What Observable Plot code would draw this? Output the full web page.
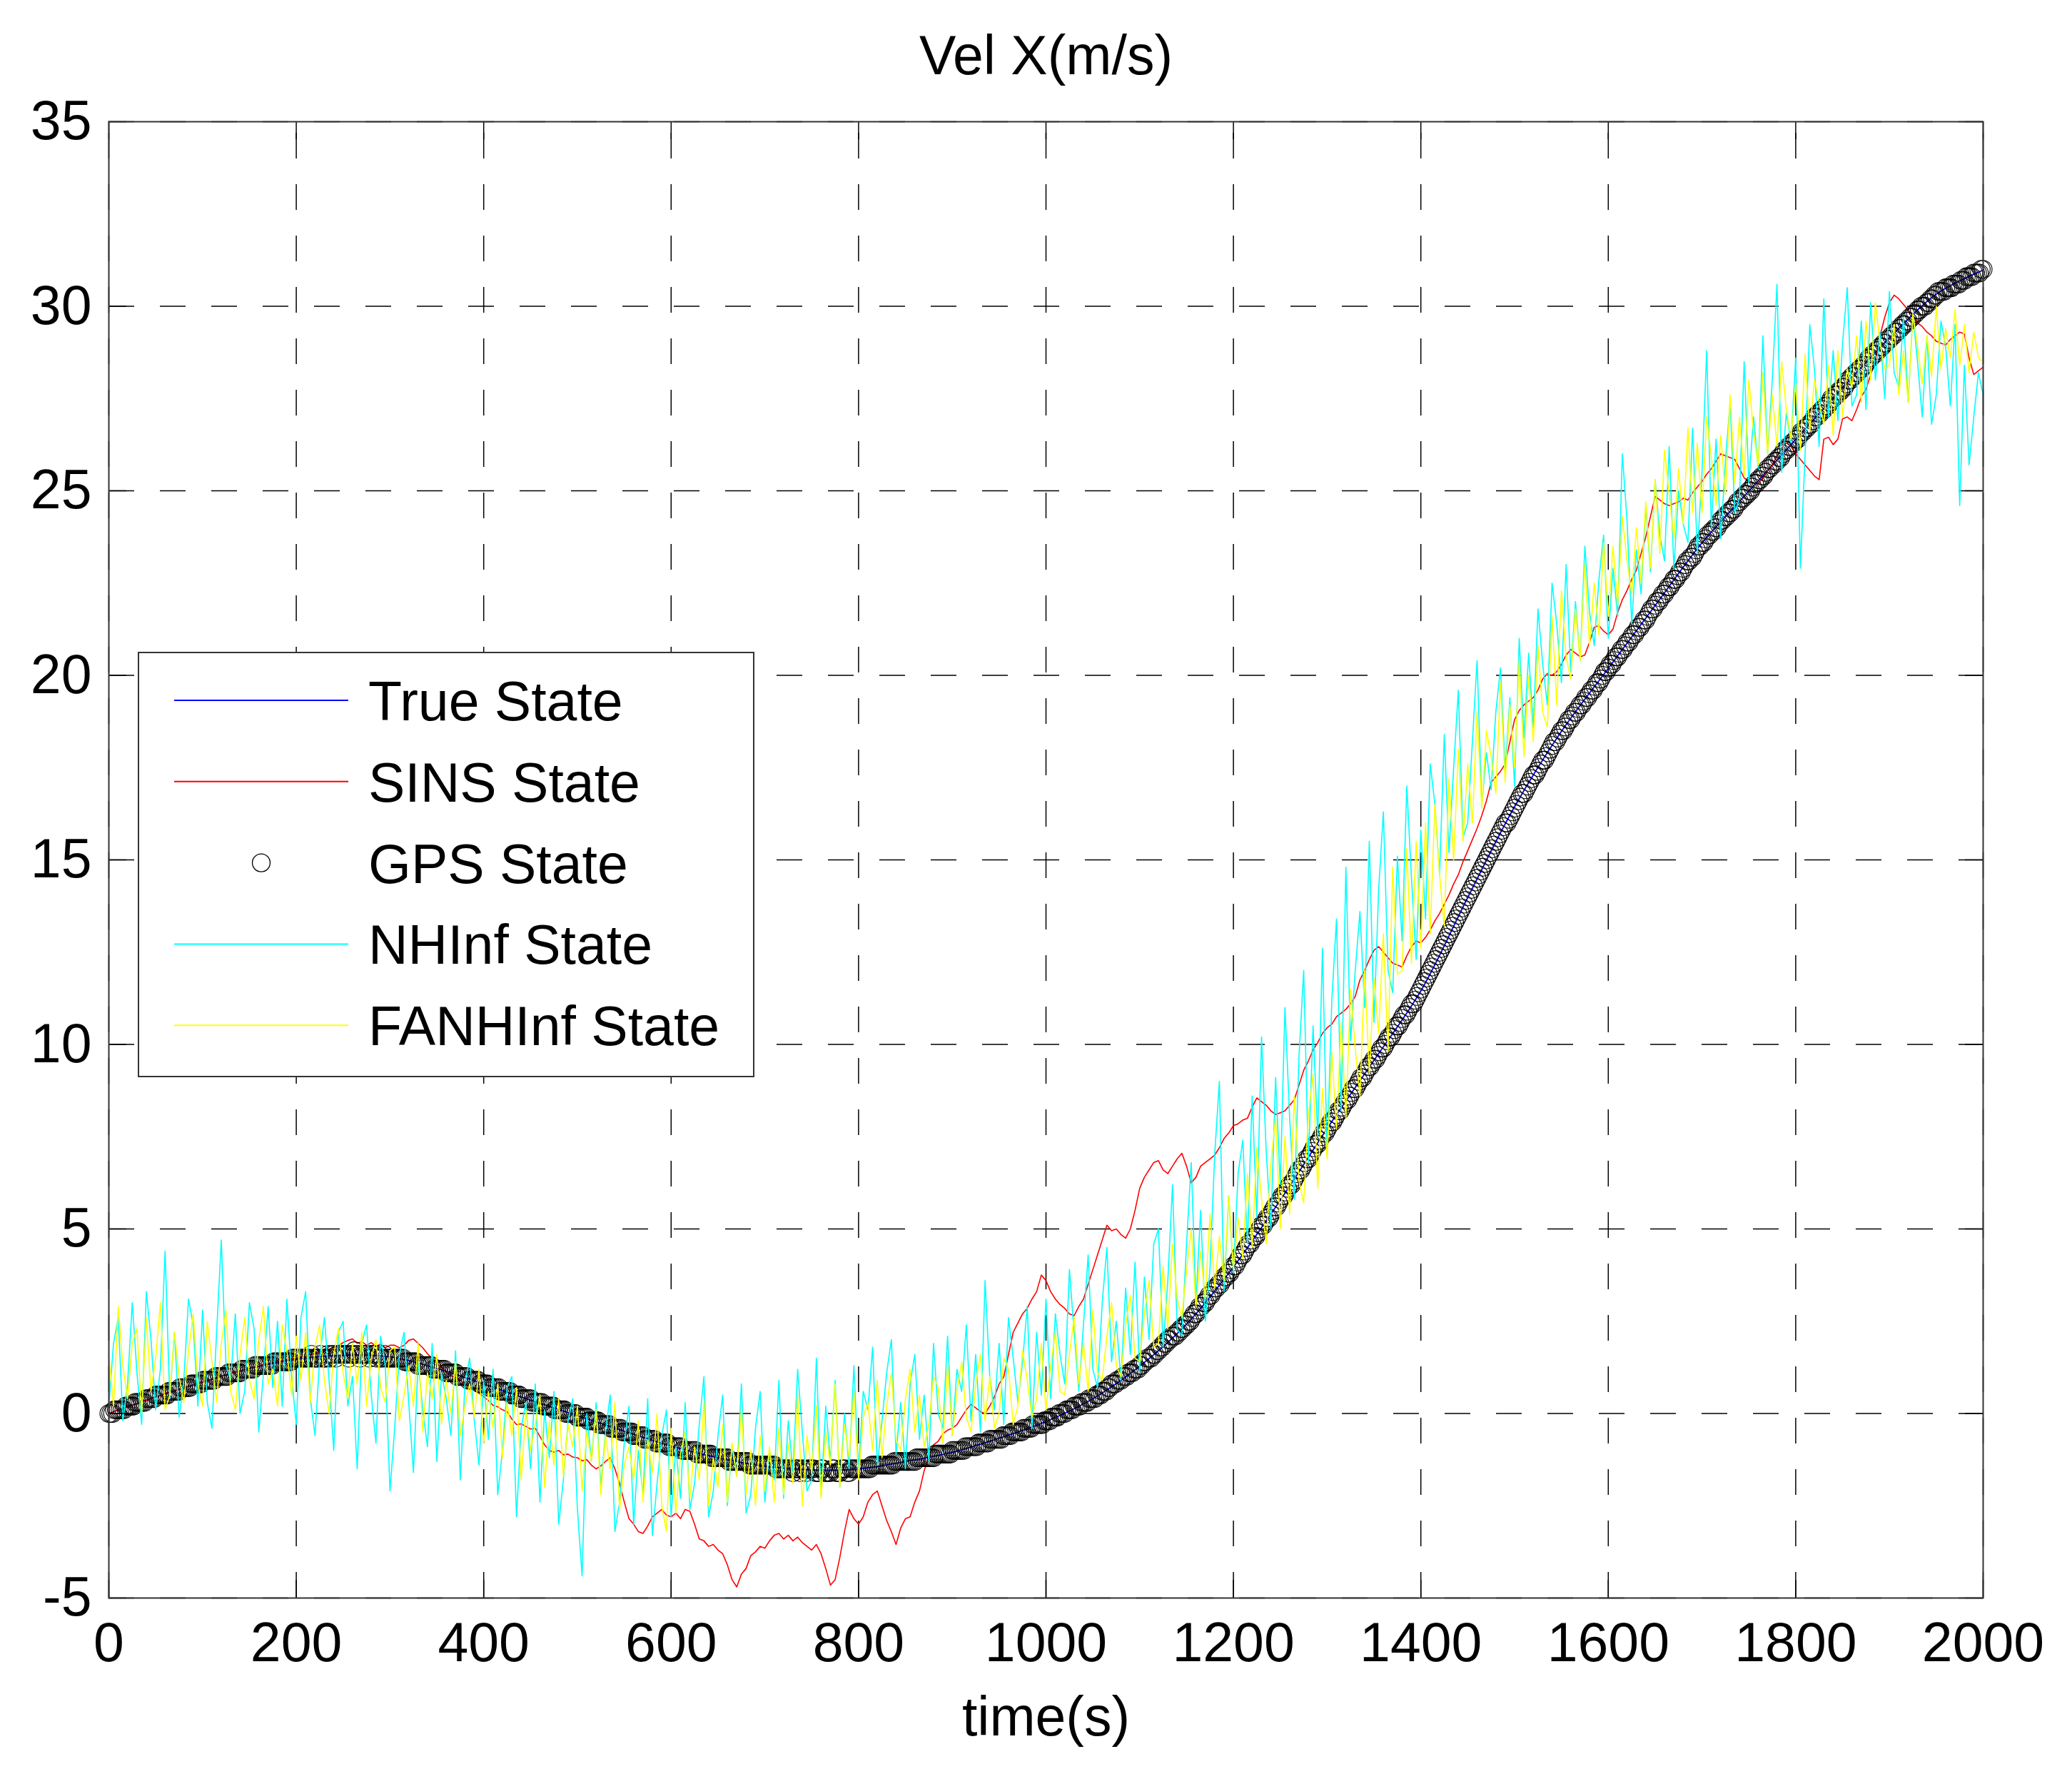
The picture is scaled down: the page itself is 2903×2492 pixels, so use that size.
<!DOCTYPE html>
<html><head><meta charset="utf-8">
<script src="https://cdn.jsdelivr.net/npm/d3@7"></script>
<script src="https://cdn.jsdelivr.net/npm/@observablehq/plot@0.6"></script>
<style>html,body{margin:0;padding:0;background:#fff}</style>
</head><body><div id="chart"></div>
<script>
const title = "Vel X(m/s)";
const xLabel = "time(s)";
const xTicks = [0,200,400,600,800,1000,1200,1400,1600,1800,2000];
const yTicks = [-5,0,5,10,15,20,25,30,35];
const seriesNames = ["True State","SINS State","GPS State","NHInf State","FANHInf State"];
const seriesColors = ["#0000ff","#ff0000","#000000","#00ffff","#ffff00"];

// true state, one value every 50 s
const trueTime = d3.range(0, 2001, 50);
const trueVel = [0,0.45,0.85,1.22,1.47,1.58,1.54,1.22,0.80,0.36,-0.06,-0.48,-0.88,-1.20,-1.43,-1.53,-1.50,-1.30,-1.05,-0.67,-0.22,0.40,1.28,2.42,3.97,5.78,7.72,9.57,11.45,13.98,16.44,18.48,20.19,21.89,23.59,24.99,26.39,27.79,29.14,30.33,30.98];

// GPS fixes, one every 2 s
const gpsTime = d3.range(0, 2001, 2);
const gpsVel = [
0.0,0.0,0.0,0.1,0.1,0.1,0.1,0.1,0.1,0.2,0.2,0.2,0.2,0.2,0.3,0.3,0.3,0.3,0.3,0.3,0.4,0.4,0.4,0.4,0.4,
0.5,0.5,0.5,0.5,0.5,0.5,0.5,0.6,0.6,0.6,0.6,0.6,0.6,0.7,0.7,0.7,0.7,0.7,0.7,0.8,0.8,0.8,0.8,0.8,0.8,
0.9,0.9,0.9,0.9,0.9,0.9,0.9,1.0,1.0,1.0,1.0,1.0,1.0,1.0,1.1,1.1,1.1,1.1,1.1,1.1,1.1,1.2,1.2,1.2,1.2,
1.2,1.2,1.2,1.3,1.3,1.3,1.3,1.3,1.3,1.3,1.3,1.3,1.3,1.4,1.4,1.4,1.4,1.4,1.4,1.4,1.4,1.4,1.4,1.5,1.5,
1.5,1.5,1.5,1.5,1.5,1.5,1.5,1.5,1.6,1.5,1.5,1.5,1.5,1.6,1.5,1.5,1.5,1.6,1.5,1.6,1.6,1.5,1.6,1.6,1.6,
1.6,1.6,1.6,1.5,1.6,1.6,1.7,1.6,1.6,1.5,1.6,1.6,1.6,1.6,1.5,1.6,1.6,1.6,1.5,1.6,1.5,1.5,1.6,1.5,1.5,
1.5,1.5,1.5,1.5,1.5,1.5,1.5,1.5,1.4,1.4,1.4,1.4,1.4,1.4,1.4,1.3,1.3,1.3,1.3,1.3,1.3,1.3,1.3,1.2,1.2,
1.2,1.2,1.2,1.2,1.2,1.1,1.1,1.1,1.1,1.1,1.1,1.0,1.0,1.0,1.0,1.0,1.0,0.9,0.9,0.9,0.9,0.9,0.9,0.8,0.8,
0.8,0.8,0.8,0.7,0.7,0.7,0.7,0.7,0.7,0.6,0.6,0.6,0.6,0.6,0.6,0.5,0.5,0.5,0.5,0.5,0.4,0.4,0.4,0.4,0.4,
0.4,0.3,0.3,0.3,0.3,0.3,0.3,0.2,0.2,0.2,0.2,0.2,0.2,0.1,0.1,0.1,0.1,0.1,0.1,0.0,0.0,0.0,0.0,0.0,0.0,
-0.1,-0.1,-0.1,-0.1,-0.1,-0.1,-0.2,-0.2,-0.2,-0.2,-0.2,-0.2,-0.3,-0.3,-0.3,-0.3,-0.3,-0.3,-0.4,-0.4,-0.4,-0.4,-0.4,-0.4,-0.5,
-0.5,-0.5,-0.5,-0.5,-0.5,-0.6,-0.6,-0.6,-0.6,-0.6,-0.6,-0.7,-0.7,-0.7,-0.7,-0.7,-0.7,-0.8,-0.8,-0.8,-0.8,-0.8,-0.8,-0.8,-0.9,
-0.9,-0.9,-0.9,-0.9,-0.9,-0.9,-1.0,-1.0,-1.0,-1.0,-1.0,-1.0,-1.0,-1.0,-1.1,-1.1,-1.1,-1.1,-1.1,-1.1,-1.1,-1.1,-1.2,-1.2,-1.2,
-1.2,-1.2,-1.2,-1.2,-1.2,-1.2,-1.3,-1.3,-1.3,-1.3,-1.3,-1.3,-1.3,-1.3,-1.3,-1.3,-1.3,-1.4,-1.4,-1.4,-1.4,-1.4,-1.4,-1.4,-1.4,
-1.4,-1.4,-1.4,-1.4,-1.4,-1.4,-1.5,-1.5,-1.5,-1.5,-1.5,-1.5,-1.5,-1.5,-1.5,-1.6,-1.5,-1.5,-1.5,-1.6,-1.5,-1.5,-1.6,-1.5,-1.5,
-1.5,-1.5,-1.6,-1.6,-1.6,-1.5,-1.5,-1.6,-1.6,-1.6,-1.6,-1.5,-1.5,-1.6,-1.6,-1.6,-1.5,-1.5,-1.5,-1.6,-1.6,-1.5,-1.5,-1.5,-1.5,
-1.5,-1.5,-1.5,-1.5,-1.5,-1.5,-1.5,-1.4,-1.4,-1.4,-1.4,-1.4,-1.4,-1.4,-1.4,-1.4,-1.4,-1.4,-1.4,-1.3,-1.3,-1.3,-1.3,-1.3,-1.3,
-1.3,-1.3,-1.3,-1.3,-1.3,-1.3,-1.2,-1.2,-1.2,-1.2,-1.2,-1.2,-1.2,-1.2,-1.2,-1.2,-1.1,-1.1,-1.1,-1.1,-1.1,-1.1,-1.1,-1.1,-1.1,
-1.0,-1.0,-1.0,-1.0,-1.0,-1.0,-1.0,-0.9,-0.9,-0.9,-0.9,-0.9,-0.9,-0.9,-0.8,-0.8,-0.8,-0.8,-0.8,-0.8,-0.7,-0.7,-0.7,-0.7,-0.7,
-0.7,-0.7,-0.6,-0.6,-0.6,-0.6,-0.6,-0.5,-0.5,-0.5,-0.5,-0.5,-0.5,-0.4,-0.4,-0.4,-0.4,-0.4,-0.3,-0.3,-0.3,-0.3,-0.3,-0.3,-0.2,
-0.2,-0.2,-0.2,-0.1,-0.1,-0.1,-0.1,0.0,0.0,0.0,0.0,0.1,0.1,0.1,0.1,0.2,0.2,0.2,0.2,0.3,0.3,0.3,0.3,0.4,0.4,
0.4,0.4,0.5,0.5,0.5,0.6,0.6,0.6,0.7,0.7,0.8,0.8,0.8,0.9,0.9,0.9,1.0,1.0,1.0,1.1,1.1,1.1,1.2,1.2,1.2,
1.3,1.3,1.4,1.4,1.5,1.5,1.5,1.6,1.6,1.7,1.7,1.8,1.8,1.9,1.9,2.0,2.0,2.1,2.1,2.1,2.2,2.2,2.3,2.3,2.4,
2.4,2.5,2.5,2.6,2.7,2.7,2.8,2.9,2.9,3.0,3.0,3.1,3.2,3.2,3.3,3.4,3.4,3.5,3.5,3.6,3.7,3.7,3.8,3.8,3.9,
4.0,4.0,4.1,4.2,4.3,4.3,4.4,4.5,4.6,4.6,4.7,4.8,4.8,4.9,5.0,5.1,5.1,5.2,5.3,5.3,5.4,5.5,5.6,5.6,5.7,
5.8,5.9,5.9,6.0,6.1,6.2,6.2,6.3,6.4,6.5,6.6,6.6,6.7,6.8,6.9,6.9,7.0,7.1,7.2,7.3,7.3,7.4,7.5,7.6,7.6,
7.7,7.8,7.9,7.9,8.0,8.1,8.2,8.2,8.3,8.4,8.5,8.5,8.6,8.7,8.8,8.8,8.9,9.0,9.1,9.1,9.2,9.3,9.4,9.4,9.5,
9.6,9.6,9.7,9.8,9.9,9.9,10.0,10.1,10.2,10.2,10.3,10.4,10.5,10.5,10.6,10.7,10.8,10.8,10.9,11.0,11.1,11.1,11.2,11.3,11.4,
11.5,11.6,11.7,11.8,11.9,12.0,12.1,12.2,12.3,12.4,12.5,12.6,12.7,12.8,12.9,13.0,13.1,13.2,13.3,13.4,13.5,13.6,13.7,13.8,13.9,
14.0,14.1,14.2,14.3,14.4,14.5,14.6,14.7,14.8,14.9,15.0,15.1,15.2,15.3,15.4,15.5,15.6,15.7,15.8,15.9,16.0,16.0,16.1,16.2,16.3,
16.4,16.5,16.6,16.7,16.8,16.8,16.9,17.0,17.1,17.2,17.3,17.3,17.4,17.5,17.6,17.7,17.7,17.8,17.9,18.0,18.1,18.2,18.2,18.3,18.4,
18.5,18.5,18.6,18.7,18.8,18.8,18.9,19.0,19.0,19.1,19.2,19.2,19.3,19.4,19.4,19.5,19.6,19.6,19.7,19.8,19.8,19.9,20.0,20.1,20.1,
20.2,20.3,20.3,20.4,20.5,20.5,20.6,20.7,20.7,20.8,20.9,20.9,21.0,21.1,21.1,21.2,21.3,21.3,21.4,21.5,21.5,21.6,21.7,21.8,21.8,
21.9,22.0,22.0,22.1,22.2,22.2,22.3,22.4,22.4,22.5,22.6,22.6,22.7,22.8,22.8,22.9,23.0,23.1,23.1,23.2,23.2,23.3,23.4,23.5,23.5,
23.6,23.6,23.7,23.8,23.8,23.9,23.9,24.0,24.0,24.1,24.2,24.2,24.3,24.3,24.4,24.4,24.5,24.5,24.6,24.7,24.7,24.8,24.8,24.9,24.9,
25.0,25.0,25.1,25.2,25.2,25.3,25.3,25.4,25.4,25.5,25.6,25.6,25.7,25.7,25.8,25.8,25.9,25.9,26.0,26.1,26.1,26.2,26.2,26.3,26.3,
26.4,26.4,26.5,26.6,26.6,26.7,26.7,26.8,26.8,26.9,27.0,27.0,27.1,27.1,27.2,27.2,27.3,27.3,27.4,27.5,27.5,27.6,27.6,27.7,27.7,
27.8,27.8,27.9,28.0,28.0,28.1,28.1,28.2,28.2,28.3,28.3,28.4,28.4,28.5,28.6,28.6,28.7,28.7,28.8,28.8,28.9,28.9,29.0,29.0,29.1,
29.1,29.2,29.2,29.3,29.3,29.4,29.4,29.5,29.5,29.6,29.6,29.7,29.7,29.8,29.8,29.9,29.9,30.0,30.0,30.0,30.1,30.1,30.2,30.2,30.3,
30.3,30.4,30.4,30.4,30.4,30.5,30.5,30.5,30.5,30.6,30.6,30.6,30.6,30.7,30.7,30.7,30.8,30.8,30.8,30.8,30.9,30.9,30.9,30.9,31.0,
31.0];

// filter outputs, one value every 5 s
const sampleTime = d3.range(0, 2001, 5);
const sinsVel = [
0.00,0.05,0.10,0.12,0.20,0.22,0.25,0.33,0.35,0.41,0.46,0.48,0.55,0.58,0.60,0.66,0.69,0.74,0.76,0.82,
0.84,0.90,0.92,0.97,1.02,1.03,1.10,1.12,1.15,1.20,1.22,1.26,1.28,1.33,1.35,1.38,1.42,1.43,1.47,1.49,
1.50,1.53,1.55,1.60,1.62,1.66,1.70,1.74,1.80,1.84,1.92,1.98,2.02,1.90,1.95,1.85,1.92,1.82,1.88,1.78,
1.85,1.85,1.78,1.85,1.98,2.02,1.90,1.78,1.62,1.48,1.35,1.25,1.12,1.02,0.98,0.90,0.80,0.72,0.62,0.55,
0.45,0.35,0.22,0.18,0.10,0.05,-0.15,-0.30,-0.28,-0.35,-0.42,-0.40,-0.62,-0.85,-1.00,-1.05,-1.00,-1.12,-1.10,-1.18,
-1.20,-1.28,-1.25,-1.40,-1.50,-1.42,-1.30,-1.20,-1.50,-1.90,-2.40,-2.85,-3.00,-3.20,-3.25,-3.05,-2.80,-2.70,-2.60,-2.75,
-2.80,-2.70,-2.85,-2.60,-2.65,-3.00,-3.40,-3.45,-3.60,-3.55,-3.70,-3.80,-4.10,-4.50,-4.70,-4.35,-4.20,-3.85,-3.75,-3.60,
-3.65,-3.45,-3.30,-3.25,-3.40,-3.30,-3.45,-3.35,-3.50,-3.60,-3.70,-3.55,-3.80,-4.20,-4.65,-4.50,-3.90,-3.20,-2.60,-2.85,
-3.00,-2.80,-2.40,-2.20,-2.10,-2.50,-2.90,-3.20,-3.55,-3.10,-2.85,-2.80,-2.40,-2.10,-1.55,-1.20,-0.85,-0.75,-0.55,-0.45,
-0.40,-0.30,-0.10,0.10,0.25,0.15,0.05,0.00,0.20,0.45,0.80,1.00,1.60,2.20,2.45,2.70,2.85,3.10,3.30,3.75,
3.60,3.30,3.10,2.95,2.85,2.70,2.65,2.90,3.10,3.50,3.90,4.30,4.70,5.10,4.95,5.00,4.85,4.75,5.00,5.50,
6.10,6.40,6.60,6.80,6.85,6.60,6.50,6.70,6.90,7.05,6.70,6.25,6.40,6.70,6.80,6.90,7.00,7.20,7.45,7.60,
7.80,7.85,7.95,8.00,8.30,8.55,8.45,8.35,8.20,8.10,8.15,8.20,8.35,8.50,8.90,9.30,9.55,9.85,10.05,10.30,
10.45,10.55,10.75,10.85,10.95,11.10,11.30,11.75,12.00,12.30,12.55,12.65,12.50,12.35,12.20,12.15,12.10,12.40,12.65,12.80,
12.75,12.90,13.10,13.35,13.55,13.80,14.05,14.35,14.60,14.95,15.25,15.55,15.85,16.20,16.60,17.10,17.25,17.40,17.60,18.20,
18.80,19.05,19.20,19.30,19.40,19.60,19.90,20.05,20.00,20.10,20.30,20.55,20.70,20.60,20.50,20.55,20.90,21.30,21.35,21.20,
21.10,21.25,21.70,22.05,22.30,22.60,22.85,23.30,23.75,24.30,24.85,24.75,24.65,24.60,24.65,24.70,24.80,24.75,24.95,25.10,
25.25,25.45,25.60,25.80,26.00,25.95,25.90,25.85,25.60,25.35,25.25,25.20,25.20,25.35,25.55,25.70,25.95,26.15,26.30,26.20,
26.00,25.85,25.70,25.55,25.40,25.30,26.40,26.45,26.25,26.40,26.95,27.00,26.90,27.20,27.55,27.75,28.15,28.55,29.20,29.70,
30.10,30.30,30.20,30.05,29.90,29.75,29.55,29.45,29.30,29.20,29.05,29.00,28.95,29.10,29.20,29.30,29.25,28.60,28.15,28.25,
28.35];
const nhinfVel = [
0.2,1.9,2.6,-0.2,0.8,3.0,1.1,-0.3,3.3,2.0,0.1,1.2,4.4,0.4,2.2,-0.1,0.9,3.1,2.4,0.2,
2.8,0.3,-0.4,2.2,4.7,1.3,0.9,2.7,0.0,0.6,3.0,2.3,-0.5,1.1,2.9,0.7,2.5,0.2,3.1,1.0,
-0.3,2.6,3.3,0.4,-0.6,1.5,2.6,0.9,-1.0,2.2,2.5,0.2,1.0,-1.5,1.9,2.4,0.5,-0.8,2.1,1.3,
-2.1,-0.4,1.6,2.2,0.3,-1.6,1.4,0.1,-0.9,1.9,-1.3,1.1,0.4,-0.6,1.7,-1.8,0.8,1.5,-0.2,-1.4,
0.9,-0.7,1.2,-2.2,-1.0,0.7,1.0,-2.8,-0.4,0.3,-1.5,0.8,-2.4,0.1,-1.2,0.6,-3.0,-1.8,-0.2,0.4,
-2.6,-4.4,0.0,-1.3,0.3,-2.0,-0.5,0.5,-3.2,-2.4,-0.8,0.2,-3.0,-1.0,-2.2,0.4,-3.3,-1.9,-0.6,0.1,
-2.8,-0.9,-2.3,0.3,-2.6,-1.9,-0.3,1.0,-2.8,-2.1,-0.6,0.5,-2.5,-0.9,-1.7,0.8,-2.7,-2.2,-0.4,0.6,
-2.4,-1.0,-1.8,0.9,-2.3,-0.2,-1.6,1.2,-0.5,-2.1,-1.8,1.5,-2.2,0.2,-1.3,0.9,-2.0,0.0,-1.5,1.3,
-1.6,0.6,0.1,1.8,-1.4,-0.2,1.1,2.0,-1.1,0.3,-1.5,0.8,1.6,-0.7,0.5,-1.3,1.9,0.0,-0.4,2.1,
-0.6,1.2,0.6,2.4,-0.2,1.6,-0.5,3.6,1.0,0.1,1.9,-0.3,2.6,1.5,0.3,1.4,2.9,-0.4,2.2,0.5,
3.1,0.4,2.7,1.6,0.8,3.9,2.2,0.6,2.4,4.3,1.2,0.7,3.0,4.5,1.4,2.5,0.9,3.4,1.6,4.1,
1.1,3.7,2.0,4.6,5.0,1.8,3.6,6.2,2.3,2.1,4.6,6.8,3.0,5.5,2.5,3.9,7.0,9.0,3.3,5.9,
3.8,6.5,7.4,4.6,8.6,5.3,10.2,7.1,5.0,9.1,6.2,11.0,8.0,5.8,9.7,12.0,6.8,10.5,7.5,12.6,
7.0,11.2,13.4,8.2,14.8,10.1,12.0,13.6,11.0,15.5,10.6,14.2,16.3,12.0,11.4,15.1,12.8,17.0,14.5,12.3,
15.8,13.4,17.6,16.5,14.6,18.4,15.2,17.5,19.6,15.6,16.0,18.2,20.4,16.5,17.9,16.9,19.0,20.2,17.4,19.4,
17.0,21.0,18.3,20.6,18.6,21.8,20.3,19.2,22.5,21.4,19.8,23.0,20.1,22.0,20.4,23.5,21.7,20.8,22.6,23.8,
21.0,22.9,21.6,26.0,24.2,21.4,23.4,22.2,24.6,22.8,25.3,23.8,23.1,26.2,22.9,25.0,24.1,23.6,26.7,23.3,
25.5,28.8,24.0,26.4,23.7,25.8,27.4,24.4,24.8,28.5,25.2,27.0,25.6,29.2,26.0,28.0,30.6,25.5,27.1,26.3,
28.6,22.9,26.0,29.5,28.3,26.2,30.2,27.0,28.8,26.9,29.0,30.5,27.3,27.6,29.6,27.2,30.1,28.0,29.3,27.5,
30.4,28.2,27.8,29.7,27.4,29.8,28.5,27.0,29.2,26.8,27.6,29.6,28.9,27.3,29.5,24.6,28.4,25.7,27.0,28.2,
27.6];
const fanhinfVel = [
1.6,0.2,2.9,1.3,0.4,1.9,2.3,0.0,2.6,0.6,1.5,3.0,0.1,0.5,2.2,1.0,0.3,1.7,2.7,0.8,
0.2,2.5,1.4,0.3,1.9,2.8,0.6,0.1,1.6,2.6,0.9,0.4,2.0,2.9,0.8,1.2,0.2,2.4,1.7,0.5,
2.1,0.9,2.2,0.3,1.8,2.4,0.9,0.0,1.6,2.3,1.1,0.4,1.9,0.8,2.2,0.2,1.5,2.0,0.7,0.3,
1.7,1.8,-0.2,0.5,1.3,0.2,1.9,-0.5,1.1,0.4,1.6,-0.3,0.9,0.0,1.4,-0.6,0.2,0.8,-0.1,1.2,
-0.8,0.6,-0.4,0.8,-1.2,0.3,-0.6,0.7,-1.8,0.1,-1.0,-0.3,0.5,-2.0,-0.2,-1.4,0.4,-1.7,-0.3,-0.9,
0.2,-2.1,-0.5,-1.3,0.1,-2.2,-0.6,-1.5,0.3,-2.6,-1.4,-0.9,-1.8,-0.2,-2.4,-0.7,-1.6,0.0,-2.5,-3.2,
-0.4,-2.7,-1.1,-0.5,-2.3,-0.9,-1.8,0.3,-2.5,-1.2,-2.0,-0.3,-2.4,-0.8,-1.7,0.1,-2.2,-1.0,-2.5,-0.6,
-2.1,-0.9,-2.4,-0.4,-2.2,-0.8,-1.9,0.5,-2.5,-0.6,-1.6,0.2,-2.3,-0.5,-1.4,0.8,-2.0,-0.3,-1.2,0.6,
-1.8,-0.1,0.3,-1.0,0.9,-1.2,0.2,1.1,-0.7,-1.0,0.4,1.2,-0.5,0.5,-0.9,-0.3,1.0,0.7,-0.8,1.3,
-0.6,0.6,1.4,-0.1,-0.5,0.8,1.6,-0.2,1.0,-0.4,0.0,1.5,1.2,-0.3,0.2,1.7,0.9,-0.1,0.4,1.9,
0.1,1.3,2.2,0.6,0.5,1.6,2.6,0.8,1.9,0.6,2.8,1.1,0.9,2.1,3.0,1.3,1.0,2.4,3.2,1.5,
1.4,2.7,3.6,1.8,1.9,4.0,2.3,4.6,3.1,2.6,3.9,5.0,2.9,4.4,3.1,5.4,3.4,4.8,3.6,5.9,
3.9,5.3,4.2,6.5,4.5,7.2,5.8,4.6,6.8,8.0,5.0,7.5,5.4,8.6,6.3,5.7,8.1,9.2,6.1,8.8,
6.9,9.8,7.7,10.6,8.0,11.5,9.9,8.6,12.0,9.2,11.8,10.3,13.0,9.8,14.8,11.9,12.0,15.3,12.2,15.5,
12.6,16.0,13.0,16.5,14.6,13.2,17.2,15.0,18.0,15.5,17.6,16.0,19.0,16.4,18.5,17.8,16.8,19.8,17.1,19.2,
17.5,20.4,17.8,20.0,18.2,20.8,19.0,18.6,21.6,19.2,22.3,20.5,19.9,21.8,20.4,23.0,20.8,22.5,21.1,23.6,
21.6,23.5,21.9,24.3,23.1,22.2,24.0,22.5,24.7,22.9,25.3,23.3,26.1,24.9,23.7,25.6,24.1,26.7,24.4,26.3,
24.4,27.0,25.9,24.6,26.5,24.9,27.6,25.2,27.0,25.4,28.0,26.6,25.7,28.2,26.0,27.6,26.2,28.5,27.2,26.4,
27.9,26.1,28.7,26.6,28.0,27.4,26.8,28.4,26.5,28.8,27.0,28.3,27.8,29.2,27.4,29.6,28.0,30.1,29.0,28.3,
28.4,29.5,27.6,28.8,27.4,29.8,28.9,27.9,29.2,28.1,30.0,28.3,29.4,28.6,29.9,28.4,29.5,28.2,29.3,28.6,
28.5];

// ---- layout & style ----
const W = 2903, H = 2492;
const mL = 152, mR = 125, mT = 170, mB = 254;
const FONT = "'Liberation Sans', Arial, Helvetica, sans-serif";
const FS = 77;
const innerW = W - mL - mR, innerH = H - mT - mB;
const tickLen = 25;

const pair = (times, vals) => vals.slice(0, times.length).map((v, i) => ({t: times[i], v}));
const fmt = d => String(d);

const plot = Plot.plot({
  width: W, height: H,
  marginLeft: mL, marginRight: mR, marginTop: mT, marginBottom: mB,
  style: {fontFamily: FONT, fontSize: FS + "px", color: "#000", background: "#fff", overflow: "visible"},
  x: {domain: [0, 2000], axis: null},
  y: {domain: [-5, 35], axis: null},
  marks: [
    Plot.ruleX(xTicks, {x: d => d, y1: -5, y2: 35, stroke: "#000", strokeWidth: 1.5, strokeDasharray: "36,36"}),
    Plot.ruleY(yTicks, {y: d => d, x1: 0, x2: 2000, stroke: "#000", strokeWidth: 1.5, strokeDasharray: "36,36"}),
    Plot.line(pair(trueTime, trueVel), {x: "t", y: "v", stroke: seriesColors[0], strokeWidth: 1.8, curve: "catmull-rom"}),
    Plot.line(pair(sampleTime, sinsVel), {x: "t", y: "v", stroke: seriesColors[1], strokeWidth: 1.6}),
    Plot.dot(pair(gpsTime, gpsVel), {x: "t", y: "v", r: 12.5, stroke: seriesColors[2], strokeWidth: 1.1, fill: "none"}),
    Plot.line(pair(sampleTime, nhinfVel), {x: "t", y: "v", stroke: seriesColors[3], strokeWidth: 1.6}),
    Plot.line(pair(sampleTime, fanhinfVel), {x: "t", y: "v", stroke: seriesColors[4], strokeWidth: 1.6}),
    Plot.ruleX(xTicks, {x: d => d, insetTop: innerH - tickLen, stroke: "#000", strokeWidth: 1.5}),
    Plot.ruleX(xTicks, {x: d => d, insetBottom: innerH - tickLen, stroke: "#000", strokeWidth: 1.5}),
    Plot.ruleY(yTicks, {y: d => d, insetRight: innerW - tickLen, stroke: "#000", strokeWidth: 1.5}),
    Plot.ruleY(yTicks, {y: d => d, insetLeft: innerW - tickLen, stroke: "#000", strokeWidth: 1.5}),
    Plot.frame({stroke: "#333", strokeWidth: 2}),
    Plot.axisX(xTicks, {anchor: "bottom", tickSize: 0, tickPadding: 34, tickFormat: fmt, label: null, fontSize: FS}),
    Plot.axisY(yTicks, {anchor: "left", tickSize: 0, tickPadding: 24, tickFormat: fmt, label: null, fontSize: FS}),
    Plot.text([title], {text: d => d, frameAnchor: "top", dy: -67, lineAnchor: "bottom", fontSize: FS, fill: "#000"}),
    Plot.text([xLabel], {text: d => d, frameAnchor: "bottom", dy: 192, lineAnchor: "bottom", fontSize: FS, fill: "#000"})
  ]
});

// legend box (upper left inside the axes)
const svg = d3.select(plot);
const lg = svg.append("g").attr("class", "legend");
const box = {x: 194, y: 914, w: 862, h: 594};
lg.append("rect").attr("x", box.x).attr("y", box.y).attr("width", box.w).attr("height", box.h)
  .attr("fill", "#fff").attr("stroke", "#333").attr("stroke-width", 2);
seriesNames.forEach((name, i) => {
  const cy = 981 + i * 113.8;
  if (i === 2) {
    lg.append("circle").attr("cx", 366).attr("cy", cy).attr("r", 12.5)
      .attr("fill", "none").attr("stroke", seriesColors[i]).attr("stroke-width", 1.3);
  } else {
    lg.append("line").attr("x1", 244).attr("x2", 488).attr("y1", cy).attr("y2", cy)
      .attr("stroke", seriesColors[i]).attr("stroke-width", 2);
  }
  lg.append("text").attr("x", 516).attr("y", cy + 28)
    .attr("text-anchor", "start")
    .attr("font-family", FONT).attr("font-size", FS).attr("fill", "#000").text(name);
});

document.getElementById("chart").appendChild(plot);
</script>
</body></html>
